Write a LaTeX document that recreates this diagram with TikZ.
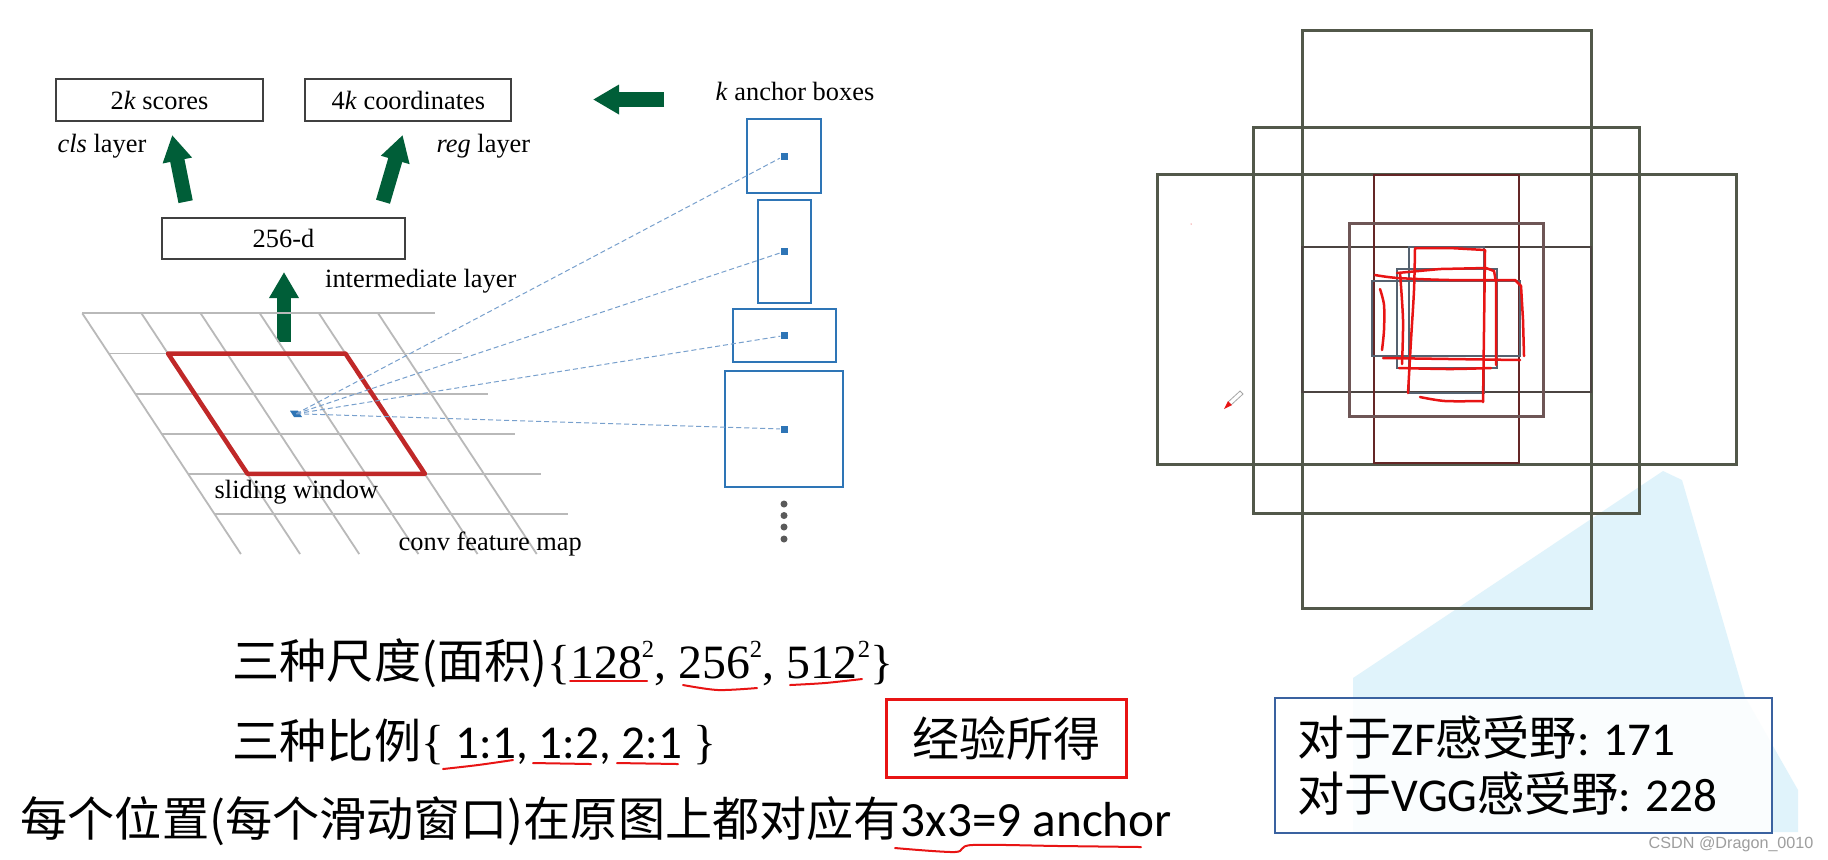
\documentclass[tikz,border=0pt]{standalone}
\usepackage{fontspec}
\setmainfont{Liberation Serif}
\newfontfamily\cjk{Noto Sans CJK SC}
\newfontfamily\calib{Carlito}
\newfontfamily\wmark{Liberation Sans}
\usetikzlibrary{arrows.meta,calc}

\definecolor{arrowgreen}{RGB}{0,94,56}
\definecolor{anchorblue}{RGB}{46,117,182}
\definecolor{dashblue}{RGB}{120,160,205}
\definecolor{gridgray}{RGB}{185,185,185}
\definecolor{winred}{RGB}{192,40,40}
\definecolor{dotgray}{RGB}{90,90,90}
\definecolor{boxolive}{RGB}{82,88,74}
\definecolor{boxdark}{RGB}{75,68,65}
\definecolor{boxbrown}{RGB}{100,38,38}
\definecolor{boxmauve}{RGB}{110,86,86}
\definecolor{boxslate}{RGB}{85,98,112}
\definecolor{penred}{RGB}{232,20,20}
\definecolor{paleblue}{RGB}{224,243,251}
\definecolor{frameblue}{RGB}{58,98,160}

\newcommand\diagfont{\fontsize{7.5}{9}\selectfont}
\newcommand\cnsize{\fontsize{13.4}{16}\selectfont}
\newcommand\numsize{\fontsize{13.6}{16}\selectfont}
\newcommand\sq{\raisebox{0.95ex}{\fontsize{7}{8}\selectfont 2}}

\begin{document}
\begin{tikzpicture}[x=0.01cm,y=-0.01cm,
    layerbox/.style={draw=black!75,line width=0.2mm,minimum height=0.42cm,inner sep=0pt,font=\diagfont},
    lbl/.style={anchor=base west,inner sep=0pt,font=\diagfont},
    fatarrow/.style={draw=arrowgreen,line width=1.45mm,-{Triangle[width=2.8mm,length=2.6mm]}},
    anchorbox/.style={draw=anchorblue,line width=0.2mm,inner sep=0pt},
    anchordot/.style={fill=anchorblue,minimum size=0.07cm,inner sep=0pt},
    ray/.style={dashblue,line width=0.1mm,dash pattern=on 0.5mm off 0.3mm},
    gridline/.style={gridgray,line width=0.18mm},
    penline/.style={penred,line width=0.25mm,line cap=round,line join=round},
    cntext/.style={anchor=base west,inner sep=0pt,font=\cnsize}]

    \fill[white] (0,0) rectangle (1828,859);
    \useasboundingbox (0,0) rectangle (1828,859);

    % network head
    \node[layerbox,minimum width=2.06cm] (scores) at (159.5,100) {2\textit{k} scores};
    \node[layerbox,minimum width=2.06cm] (coords) at (408.4,100) {4\textit{k} coordinates};
    \node[lbl] (clslbl) at (57,152) {\textit{cls} layer};
    \node[lbl] (reglbl) at (436,152) {\textit{reg} layer};
    \node[layerbox,minimum width=2.43cm,minimum height=0.41cm] (inter) at (283.5,238.5) {256-d};
    \node[lbl] (interlbl) at (324.5,287) {intermediate layer};

    \coordinate (clsfoot) at (185.6,201.7);
    \coordinate (clstip) at (172.2,135);
    \coordinate (regfoot) at (383,201.7);
    \coordinate (regtip) at (402.6,135);
    \coordinate (upfoot) at (284,342);
    \coordinate (uptip) at (284,272);
    \coordinate (backfoot) at (664,99.5);
    \coordinate (backtip) at (593,99.5);
    \draw[fatarrow] (clsfoot) -- (clstip);
    \draw[fatarrow] (regfoot) -- (regtip);
    \draw[fatarrow] (upfoot) -- (uptip);
    \draw[fatarrow] (backfoot) -- (backtip);

    % conv feature map
    \foreach \r in {0,...,5}
        \draw[gridline] (82.3+26.5*\r,313.3+40.15*\r) -- ++(353,0);
    \foreach \c in {0,...,5}
        \draw[gridline] (82.3+59.16*\c,313.3) -- ++(158.6,240.7);
    \draw[winred,line width=0.45mm,line join=round] (168,353.5) -- (345.4,353.5) -- (424.9,473.8) -- (247.5,473.8) -- cycle;
    \coordinate (fp) at (296.2,413.7);
    \fill[anchorblue] (290,410.7) -- (298,410.7) -- (302,417) -- (294,417) -- cycle;
    \node[lbl] (slidelbl) at (214,498) {sliding window};
    \node[lbl] (maplbl) at (398,550) {conv feature map};

    % anchor boxes
    \node[lbl] (anchorlbl) at (715,100) {\textit{k} anchor boxes};
    \node[anchorbox,minimum width=0.74cm,minimum height=0.74cm] (box1) at (784,156) {};
    \node[anchorbox,minimum width=0.53cm,minimum height=1.03cm] (box2) at (784.5,251.5) {};
    \node[anchorbox,minimum width=1.03cm,minimum height=0.53cm] (box3) at (784.5,335.5) {};
    \node[anchorbox,minimum width=1.18cm,minimum height=1.16cm] (box4) at (784,429) {};
    \foreach \i in {1,...,4} {
        \node[anchordot] (dot\i) at (box\i.center) {};
        \draw[ray] (fp) -- (dot\i);
    }
    \foreach \i/\y in {1/504,2/515.5,3/527,4/539}
        \node[circle,fill=dotgray,minimum size=0.7mm,inner sep=0pt] (more\i) at (784,\y) {};

    % background sweep
    \fill[paleblue] (1353,678) -- (1663,471) -- (1682,480) -- (1745,697) -- (1798,790) -- (1798,832) -- (1353,832) -- cycle;

    % nine anchors on the image
    \foreach \xa/\ya/\xb/\yb/\col/\lw in {
        1302/30/1591/608/boxolive/0.3mm,
        1253/127/1639/513/boxolive/0.3mm,
        1157/174/1736/464/boxolive/0.3mm,
        1302/247/1591/392/boxdark/0.28mm,
        1374/175/1519/463/boxbrown/0.2mm,
        1349/223/1543/416/boxmauve/0.3mm,
        1409/247/1484/393/boxslate/0.25mm,
        1397/269/1497/368/boxslate/0.25mm,
        1372/281/1520/356/boxslate/0.25mm}
        \draw[\col,line width=\lw] (\xa,\ya) rectangle (\xb,\yb);

    % hand strokes
    \draw[penline] plot[smooth] coordinates {(1408,393) (1411,340) (1414,290) (1415,248)} -- (1450,248) -- (1485,250) -- (1484,330) -- (1483,402);
    \draw[penline] plot[smooth] coordinates {(1420,397) (1445,401) (1483,401)};
    \draw[penline] (1397,273) -- (1440,269) -- (1486,268) -- (1494,271) -- (1496,282) -- (1496,365);
    \draw[penline] plot[smooth] coordinates {(1400,273) (1403,320) (1402,364)};
    \draw[penline] plot[smooth] coordinates {(1399,368) (1450,369) (1491,368)};
    \draw[penline] plot[smooth] coordinates {(1375,275) (1398,278) (1450,280) (1515,280)} -- (1521,286) -- (1523,320) -- (1524,356);
    \draw[penline] plot[smooth] coordinates {(1383,358) (1450,359) (1520,360)};
    \draw[penline] plot[smooth] coordinates {(1380,289) (1384,305) (1384,330) (1382,350)};
    \fill[penred] (1191,224) circle (0.05mm);
    \draw[gray!70,line width=0.08mm] (1228,402) -- (1240,391) -- (1243,394) -- (1231,405);
    \fill[penred] (1224,409) -- (1228,401) -- (1232,405) -- cycle;

    % notes below
    \node[cntext] (scales) at (232,678) {{\cjk 三种尺度(面积)}{\numsize\{128\sq, 256\sq, 512\sq\}}};
    \node[cntext] (ratios) at (232,758) {{\cjk 三种比例}{\numsize\{} {\calib 1:1, 1:2, 2:1} {\numsize\}}};
    \node[cntext] (perpos) at (20,836) {{\cjk 每个位置(每个滑动窗口)在原图上都对应有}{\fontsize{14}{16}\selectfont\calib 3x3=9 anchor}};
    \node[draw=penred,line width=0.3mm,minimum width=2.39cm,minimum height=0.78cm,inner sep=0pt,font=\cnsize\cjk] (empir) at (1006.5,738) {经验所得};

    \draw[penline,line width=0.2mm] (570,681) -- (647,681);
    \draw[penline,line width=0.2mm] plot[smooth] coordinates {(683,685) (718,690) (757,688)};
    \draw[penline,line width=0.2mm] plot[smooth] coordinates {(790,685) (825,683) (862,679)};
    \draw[penline,line width=0.2mm] plot[smooth] coordinates {(443,769) (478,765) (513,760)};
    \draw[penline,line width=0.2mm] (533,763) -- (591,764);
    \draw[penline,line width=0.2mm] (617,763) -- (678,764);
    \draw[penline,line width=0.2mm] plot[smooth] coordinates {(895,848) (955,852) (972,845) (1060,846) (1141,847)};

    \node[draw=frameblue,line width=0.25mm,fill=white,fill opacity=0.85,minimum width=4.97cm,minimum height=1.35cm,inner sep=0pt] (rfbox) at (1523.5,765.5) {};
    \node[cntext] (zfline) at (1297,755) {{\cjk 对于}{\calib ZF}{\cjk 感受野}{\calib : 171}};
    \node[cntext] (vggline) at (1297,811) {{\cjk 对于}{\calib VGG}{\cjk 感受野}{\calib : 228}};
    \node[anchor=base west,inner sep=0pt,text=black!38,font=\fontsize{4.6}{5}\selectfont\wmark] (wm) at (1648,848) {CSDN @Dragon\_0010};
\end{tikzpicture}
\end{document}
